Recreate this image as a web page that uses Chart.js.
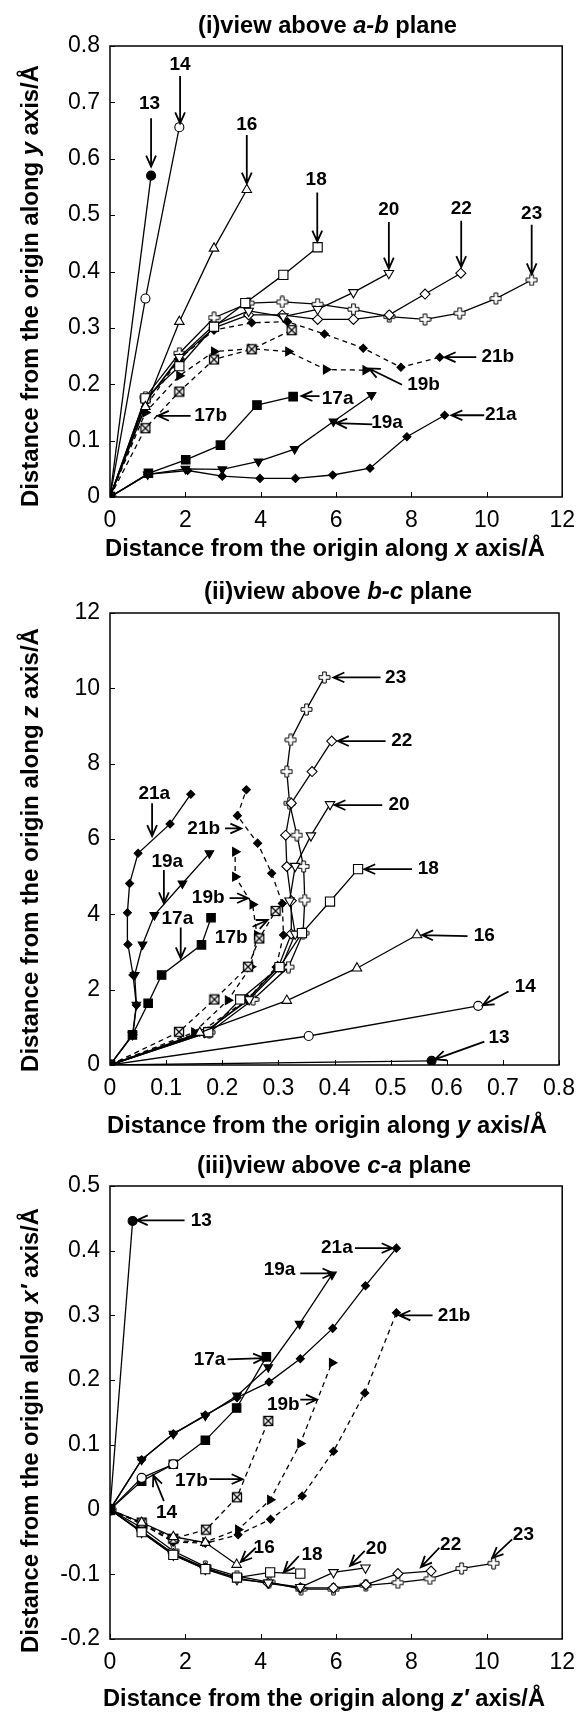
<!DOCTYPE html>
<html>
<head>
<meta charset="utf-8">
<script src="https://cdn.jsdelivr.net/npm/chart.js@4.4.0/dist/chart.umd.min.js"></script>
<style>
  body { margin: 0; background: #fff; }
  canvas { display: block; }
</style>
</head>
<body>
<canvas id="ab" width="585" height="565"></canvas>
<canvas id="bc" width="585" height="575"></canvas>
<canvas id="ca" width="585" height="573"></canvas>
<script>
// ---- (i) view above a-b plane : [x, y] ----
const ab13 = [[0,0],[1.09,0.57]];
const ab14 = [[0,0],[0.94,0.352],[1.84,0.656]];
const ab16 = [[0,0],[0.94,0.16],[1.84,0.311],[2.76,0.441],[3.63,0.545]];
const ab17a = [[0,0],[1.02,0.042],[2.01,0.066],[2.93,0.092],[3.9,0.163],[4.86,0.178]];
const ab17b = [[0,0],[0.94,0.122],[1.84,0.187],[2.76,0.244],[3.76,0.262],[4.82,0.296]];
const ab18 = [[0,0],[0.94,0.175],[1.84,0.232],[2.76,0.302],[3.59,0.344],[4.6,0.394],[5.51,0.443]];
const ab19a = [[0,0],[1.0,0.04],[2.0,0.05],[2.98,0.049],[3.94,0.063],[4.9,0.085],[5.93,0.134],[6.94,0.181]];
const ab19b = [[0,0],[0.94,0.15],[1.84,0.215],[2.76,0.258],[3.75,0.263],[4.73,0.258],[5.73,0.226],[6.78,0.225]];
const ab20 = [[0,0],[0.94,0.168],[1.84,0.248],[2.76,0.305],[3.68,0.33],[4.6,0.32],[5.51,0.333],[6.46,0.363],[7.4,0.397]];
const ab21a = [[0,0],[1.0,0.04],[2.06,0.047],[2.98,0.037],[3.98,0.033],[4.92,0.033],[5.91,0.039],[6.9,0.051],[7.88,0.107],[8.88,0.145]];
const ab21b = [[0,0],[0.94,0.16],[1.84,0.245],[2.76,0.296],[3.76,0.309],[4.71,0.311],[5.69,0.289],[6.72,0.264],[7.72,0.23],[8.75,0.248]];
const ab22 = [[0,0],[0.94,0.17],[1.84,0.245],[2.76,0.3],[3.68,0.323],[4.57,0.323],[5.51,0.315],[6.46,0.315],[7.41,0.323],[8.36,0.36],[9.31,0.397]];
const ab23 = [[0,0],[0.94,0.177],[1.84,0.255],[2.76,0.318],[3.68,0.344],[4.57,0.346],[5.51,0.342],[6.46,0.333],[7.41,0.32],[8.36,0.315],[9.28,0.326],[10.24,0.352],[11.19,0.385]];

// ---- (ii) view above b-c plane : [y, z] ----
const bc13 = [[0,0],[0.573,0.11]];
const bc14 = [[0,0],[0.354,0.77],[0.656,1.57]];
const bc16 = [[0,0],[0.16,0.86],[0.315,1.71],[0.44,2.57],[0.547,3.45]];
const bc17a = [[0,0],[0.04,0.8],[0.068,1.64],[0.092,2.39],[0.163,3.19],[0.18,3.91]];
const bc17b = [[0,0],[0.123,0.88],[0.186,1.74],[0.246,2.61],[0.266,3.36],[0.295,4.09]];
const bc18 = [[0,0],[0.175,0.87],[0.232,1.74],[0.302,2.6],[0.342,3.5],[0.392,4.34],[0.442,5.2]];
const bc19a = [[0,0],[0.04,0.8],[0.047,1.6],[0.044,2.39],[0.058,3.2],[0.079,3.98],[0.129,4.82],[0.177,5.62]];
const bc19b = [[0,0],[0.15,0.87],[0.21,1.72],[0.251,2.61],[0.262,3.45],[0.254,4.26],[0.223,5.0],[0.223,5.66]];
const bc20 = [[0,0],[0.168,0.87],[0.248,1.74],[0.305,2.6],[0.33,3.48],[0.32,4.36],[0.33,5.28],[0.358,6.09],[0.392,6.92]];
const bc21a = [[0,0],[0.041,0.8],[0.047,1.59],[0.041,2.39],[0.032,3.2],[0.031,4.04],[0.035,4.82],[0.05,5.62],[0.107,6.4],[0.144,7.19]];
const bc21b = [[0,0],[0.16,0.87],[0.245,1.74],[0.296,2.6],[0.309,3.45],[0.307,4.29],[0.288,5.09],[0.263,5.89],[0.227,6.62],[0.243,7.31]];
const bc22 = [[0,0],[0.17,0.87],[0.245,1.74],[0.3,2.6],[0.323,3.48],[0.323,4.36],[0.315,5.27],[0.313,6.1],[0.323,6.95],[0.36,7.79],[0.395,8.6]];
const bc23 = [[0,0],[0.177,0.87],[0.255,1.74],[0.318,2.6],[0.344,3.5],[0.347,4.38],[0.345,5.27],[0.333,6.1],[0.32,6.95],[0.315,7.79],[0.322,8.63],[0.35,9.44],[0.382,10.29]];

// ---- (iii) view above c-a plane : [z', x'] ----
const ca13 = [[0,0],[0.6,0.446]];
const ca14 = [[0,0],[0.84,0.049],[1.68,0.07]];
const ca16 = [[0,0],[0.84,-0.02],[1.68,-0.042],[2.53,-0.051],[3.36,-0.085]];
const ca17a = [[0,0],[0.84,0.044],[1.68,0.07],[2.53,0.107],[3.36,0.157],[4.15,0.236]];
const ca17b = [[0,0],[0.84,-0.02],[1.68,-0.045],[2.55,-0.031],[3.37,0.019],[4.2,0.137]];
const ca18 = [[0,0],[0.84,-0.035],[1.68,-0.07],[2.53,-0.092],[3.37,-0.105],[4.25,-0.097],[5.05,-0.099]];
const ca19a = [[0,0],[0.84,0.077],[1.68,0.117],[2.53,0.145],[3.37,0.176],[4.2,0.22],[5.03,0.287],[5.89,0.363]];
const ca19b = [[0,0],[0.84,-0.022],[1.68,-0.048],[2.53,-0.05],[3.4,-0.031],[4.25,0.015],[5.05,0.102],[5.89,0.227]];
const ca20 = [[0,0],[0.84,-0.035],[1.68,-0.07],[2.53,-0.092],[3.37,-0.108],[4.2,-0.113],[5.05,-0.12],[5.93,-0.097],[6.78,-0.09]];
const ca21a = [[0,0],[0.84,0.077],[1.68,0.117],[2.53,0.146],[3.37,0.173],[4.22,0.197],[5.05,0.233],[5.91,0.28],[6.78,0.346],[7.6,0.404]];
const ca21b = [[0,0],[0.84,-0.022],[1.68,-0.05],[2.53,-0.052],[3.4,-0.039],[4.26,-0.015],[5.1,0.021],[5.93,0.09],[6.76,0.18],[7.6,0.304]];
const ca22 = [[0,0],[0.84,-0.033],[1.68,-0.068],[2.53,-0.09],[3.37,-0.106],[4.2,-0.114],[5.05,-0.121],[5.93,-0.121],[6.79,-0.116],[7.64,-0.099],[8.52,-0.095]];
const ca23 = [[0,0],[0.84,-0.028],[1.68,-0.064],[2.53,-0.088],[3.37,-0.103],[4.22,-0.112],[5.07,-0.123],[5.93,-0.123],[6.79,-0.117],[7.64,-0.113],[8.49,-0.107],[9.33,-0.091],[10.18,-0.083]];

// tick values
const abXTicks = [0, 2, 4, 6, 8, 10, 12];
const abYTicks = [0, 0.1, 0.2, 0.3, 0.4, 0.5, 0.6, 0.7, 0.8];
const bcXTicks = [0, 0.1, 0.2, 0.3, 0.4, 0.5, 0.6, 0.7, 0.8];
const bcYTicks = [0, 2, 4, 6, 8, 10, 12];
const caXTicks = [0, 2, 4, 6, 8, 10, 12];
const caYTicks = [-0.2, -0.1, 0, 0.1, 0.2, 0.3, 0.4, 0.5];

// labels with arrows: [text, labelX, labelY, fromX, fromY, tipX, tipY] in data units
const abNotes = [
  ['13', 1.05, 0.697, 1.09, 0.672, 1.09, 0.586],
  ['14', 1.86, 0.766, 1.86, 0.747, 1.86, 0.663],
  ['16', 3.63, 0.66, 3.63, 0.642, 3.63, 0.556],
  ['18', 5.47, 0.562, 5.5, 0.54, 5.5, 0.453],
  ['20', 7.4, 0.509, 7.4, 0.488, 7.4, 0.405],
  ['22', 9.32, 0.512, 9.32, 0.49, 9.32, 0.408],
  ['23', 11.19, 0.503, 11.19, 0.483, 11.19, 0.395],
  ['21b', 10.29, 0.249, 9.72, 0.248, 8.88, 0.248],
  ['19b', 8.32, 0.199, 7.75, 0.199, 6.87, 0.228],
  ['17a', 6.04, 0.175, 5.56, 0.179, 5.08, 0.179],
  ['19a', 7.35, 0.131, 6.96, 0.129, 6.0, 0.131],
  ['21a', 10.37, 0.145, 9.93, 0.145, 9.06, 0.145],
  ['17b', 2.67, 0.144, 2.14, 0.144, 1.27, 0.144]
];
const bcNotes = [
  ['21a', 0.079, 7.21, 0.075, 6.95, 0.075, 6.08],
  ['21b', 0.167, 6.28, 0.205, 6.28, 0.234, 6.28],
  ['19a', 0.102, 5.4, 0.096, 5.18, 0.096, 4.29],
  ['19b', 0.175, 4.43, 0.213, 4.43, 0.246, 4.43],
  ['17a', 0.12, 3.89, 0.126, 3.65, 0.126, 2.83],
  ['17b', 0.216, 3.39, 0.254, 3.67, 0.281, 3.85],
  ['23', 0.509, 10.29, 0.482, 10.29, 0.398, 10.29],
  ['22', 0.52, 8.6, 0.491, 8.6, 0.406, 8.6],
  ['20', 0.515, 6.9, 0.485, 6.9, 0.4, 6.9],
  ['18', 0.567, 5.2, 0.538, 5.2, 0.453, 5.2],
  ['16', 0.667, 3.42, 0.637, 3.42, 0.556, 3.45],
  ['14', 0.74, 2.08, 0.71, 1.95, 0.664, 1.59],
  ['13', 0.693, 0.73, 0.667, 0.62, 0.579, 0.15]
];
const caNotes = [
  ['13', 2.42, 0.446, 1.98, 0.447, 0.71, 0.447],
  ['19a', 4.5, 0.37, 5.05, 0.365, 5.93, 0.365],
  ['21a', 6.02, 0.404, 6.5, 0.404, 7.5, 0.404],
  ['21b', 9.13, 0.3, 8.56, 0.3, 7.68, 0.3],
  ['17a', 2.64, 0.232, 3.12, 0.232, 4.09, 0.234],
  ['19b', 4.6, 0.162, 5.05, 0.17, 5.49, 0.17],
  ['17b', 2.16, 0.044, 2.64, 0.047, 3.52, 0.047],
  ['14', 1.5, -0.005, 1.43, 0.013, 1.15, 0.053],
  ['16', 4.09, -0.059, 3.87, -0.059, 3.47, -0.081],
  ['18', 5.36, -0.07, 5.01, -0.072, 4.61, -0.097],
  ['20', 7.07, -0.061, 6.76, -0.064, 6.37, -0.087],
  ['22', 9.04, -0.054, 8.74, -0.059, 8.25, -0.089],
  ['23', 10.97, -0.039, 10.67, -0.046, 10.14, -0.075]
];

const FONT = '"Liberation Sans", Arial, sans-serif';

// marker pictures that Chart.js has no built-in style for
function plusMark() {
  const c = document.createElement('canvas');
  c.width = c.height = 13;
  const g = c.getContext('2d');
  const m = 6.5, a = 1.8, b = 5.5;
  g.beginPath();
  g.moveTo(m - a, m - b); g.lineTo(m + a, m - b); g.lineTo(m + a, m - a);
  g.lineTo(m + b, m - a); g.lineTo(m + b, m + a); g.lineTo(m + a, m + a);
  g.lineTo(m + a, m + b); g.lineTo(m - a, m + b); g.lineTo(m - a, m + a);
  g.lineTo(m - b, m + a); g.lineTo(m - b, m - a); g.lineTo(m - a, m - a);
  g.closePath();
  g.fillStyle = '#fff'; g.fill();
  g.strokeStyle = '#000'; g.lineWidth = 1; g.stroke();
  return c;
}
function crossedSquare() {
  const c = document.createElement('canvas');
  c.width = c.height = 12;
  const g = c.getContext('2d');
  g.fillStyle = '#fff'; g.fillRect(1, 1, 10, 10);
  g.strokeStyle = '#000'; g.lineWidth = 1.3;
  g.strokeRect(1.5, 1.5, 9, 9);
  g.beginPath();
  g.moveTo(1.5, 1.5); g.lineTo(10.5, 10.5);
  g.moveTo(10.5, 1.5); g.lineTo(1.5, 10.5);
  g.stroke();
  return c;
}

const looks = {
  '13': { style: 'circle', fill: '#000', r: 4.5 },
  '14': { style: 'circle', fill: '#fff', r: 4.5 },
  '16': { style: 'triangle', fill: '#fff', r: 5.5 },
  '17a': { style: 'rect', fill: '#000', r: 6 },
  '17b': { style: crossedSquare(), dash: true },
  '18': { style: 'rect', fill: '#fff', r: 6.5 },
  '19a': { style: 'triangle', rot: 180, fill: '#000', r: 5 },
  '19b': { style: 'triangle', rot: 90, fill: '#000', r: 5, dash: true },
  '20': { style: 'triangle', rot: 180, fill: '#fff', r: 5.5 },
  '21a': { style: 'rectRot', fill: '#000', r: 4 },
  '21b': { style: 'rectRot', fill: '#000', r: 4, dash: true },
  '22': { style: 'rectRot', fill: '#fff', r: 5 },
  '23': { style: plusMark() }
};

function makeSet(name, pts) {
  const k = looks[name];
  return {
    label: name,
    data: pts.map(([x, y]) => ({ x, y })),
    showLine: true,
    borderColor: '#000',
    borderWidth: 1.3,
    borderDash: k.dash ? [5, 4] : [],
    pointStyle: k.style,
    pointRadius: k.r || 5,
    pointRotation: k.rot || 0,
    pointBackgroundColor: k.fill || '#fff',
    pointBorderColor: '#000',
    pointBorderWidth: 1.1
  };
}

// writes a line made of plain and italic parts, stretched to a given length
function writeParts(ctx, parts, size, x, y, len, turn) {
  const fontOf = it => (it ? 'italic ' : '') + 'bold ' + size + 'px ' + FONT;
  let full = 0;
  for (const [p, it] of parts) { ctx.font = fontOf(it); full += ctx.measureText(p).width; }
  ctx.save();
  ctx.translate(x, y);
  if (turn) ctx.rotate(-Math.PI / 2);
  ctx.scale(len / full, 1);
  ctx.textAlign = 'left';
  ctx.textBaseline = 'middle';
  let pos = 0;
  for (const [p, it] of parts) {
    ctx.font = fontOf(it);
    ctx.fillText(p, pos, 0);
    pos += ctx.measureText(p).width;
  }
  ctx.restore();
}

const notePlugin = {
  id: 'notes',
  beforeDatasetsDraw(chart) {
    const { ctx, chartArea: a, scales: { x, y } } = chart;
    ctx.save();
    ctx.strokeStyle = '#000';
    ctx.lineWidth = 1.5;
    ctx.strokeRect(a.left, a.top, a.right - a.left, a.bottom - a.top);
    // short tick marks pointing into the plot
    ctx.lineWidth = 1;
    ctx.beginPath();
    for (const t of x.ticks) {
      const px = Math.round(x.getPixelForValue(t.value)) + 0.5;
      ctx.moveTo(px, a.bottom); ctx.lineTo(px, a.bottom - 5);
    }
    for (const t of y.ticks) {
      const py = Math.round(y.getPixelForValue(t.value)) + 0.5;
      ctx.moveTo(a.left, py); ctx.lineTo(a.left + 5, py);
    }
    ctx.stroke();
    ctx.restore();
  },
  afterDatasetsDraw(chart, args, opts) {
    const { ctx, scales: { x, y } } = chart;
    ctx.save();
    ctx.strokeStyle = '#000';
    ctx.fillStyle = '#000';
    ctx.lineWidth = 1.8;
    ctx.font = 'bold 19px ' + FONT;
    ctx.textAlign = 'center';
    ctx.textBaseline = 'middle';
    for (const [txt, lx, ly, fx, fy, tx, ty] of opts.items) {
      const x0 = x.getPixelForValue(fx), y0 = y.getPixelForValue(fy);
      const x1 = x.getPixelForValue(tx), y1 = y.getPixelForValue(ty);
      const ang = Math.atan2(y1 - y0, x1 - x0), h = 12, w = 0.42;
      ctx.beginPath();
      ctx.moveTo(x0, y0);
      ctx.lineTo(x1, y1);
      ctx.moveTo(x1 - h * Math.cos(ang - w), y1 - h * Math.sin(ang - w));
      ctx.lineTo(x1, y1);
      ctx.lineTo(x1 - h * Math.cos(ang + w), y1 - h * Math.sin(ang + w));
      ctx.stroke();
      ctx.fillText(txt, x.getPixelForValue(lx), y.getPixelForValue(ly));
    }
    // heading and axis names, with the variable letters in italics
    const L = opts.lay;
    writeParts(ctx, opts.head, 23.5, L.headX, L.headY, L.headLen, false);
    writeParts(ctx, opts.xName, 23.5, L.xNameX, L.xNameY, L.xNameLen, false);
    writeParts(ctx, opts.yName, 23.5, 32, L.yNameY, L.yNameLen, true);
    ctx.restore();
  }
};

function axis(ticks, fit) {
  return {
    type: 'linear',
    min: ticks[0],
    max: ticks[ticks.length - 1],
    ticks: {
      stepSize: ticks[1] - ticks[0], color: '#000', padding: 10,
      font: { family: FONT, size: 23 },
      callback: v => String(Math.round(v * 100) / 100)
    },
    grid: { display: false, drawTicks: false },
    border: { display: false },
    afterFit: fit
  };
}

function build(id, c) {
  return new Chart(document.getElementById(id), {
    type: 'scatter',
    data: { datasets: c.series.map(([n, p]) => makeSet(n, p)) },
    options: {
      responsive: false,
      animation: false,
      events: [],
      layout: { padding: { left: 0, top: c.top, bottom: 0, right: 585 - c.right } },
      plugins: {
        legend: { display: false },
        tooltip: { enabled: false },
        notes: { items: c.notes, head: c.head, xName: c.xName, yName: c.yName, lay: c.lay }
      },
      scales: {
        x: axis(c.xTicks, s => { s.height = c.h - c.bottom; }),
        y: axis(c.yTicks, s => { s.width = 110; })
      }
    },
    plugins: [notePlugin]
  });
}

build('ab', {
  h: 565, top: 46, bottom: 497, right: 567,
  lay: { headX: 198, headY: 27, headLen: 259, xNameX: 105, xNameY: 550, xNameLen: 440, yNameY: 507, yNameLen: 442 },
  head: [['(i)view above ', false], ['a-b', true], [' plane', false]],
  xName: [['Distance from the origin along ', false], ['x', true], [' axis/Å', false]],
  yName: [['Distance from the origin along ', false], ['y', true], [' axis/Å', false]],
  xTicks: abXTicks, yTicks: abYTicks, notes: abNotes,
  series: [['13', ab13], ['14', ab14], ['16', ab16], ['17a', ab17a], ['17b', ab17b], ['18', ab18],
    ['19a', ab19a], ['19b', ab19b], ['20', ab20], ['21a', ab21a], ['21b', ab21b], ['22', ab22], ['23', ab23]]
});

build('bc', {
  h: 575, top: 48, bottom: 500, right: 566,
  lay: { headX: 204, headY: 28, headLen: 268, xNameX: 107, xNameY: 562, xNameLen: 440, yNameY: 507, yNameLen: 444 },
  head: [['(ii)view above ', false], ['b-c', true], [' plane', false]],
  xName: [['Distance from the origin along ', false], ['y', true], [' axis/Å', false]],
  yName: [['Distance from the origin along ', false], ['z', true], [' axis/Å', false]],
  xTicks: bcXTicks, yTicks: bcYTicks, notes: bcNotes,
  series: [['13', bc13], ['14', bc14], ['16', bc16], ['17a', bc17a], ['17b', bc17b], ['18', bc18],
    ['19a', bc19a], ['19b', bc19b], ['20', bc20], ['21a', bc21a], ['21b', bc21b], ['22', bc22], ['23', bc23]]
});

build('ca', {
  h: 573, top: 46, bottom: 499, right: 564,
  lay: { headX: 197, headY: 27, headLen: 274, xNameX: 103, xNameY: 560, xNameLen: 442, yNameY: 513, yNameLen: 445 },
  head: [['(iii)view above ', false], ['c-a', true], [' plane', false]],
  xName: [['Distance from the origin along ', false], ['z\u2032', true], [' axis/Å', false]],
  yName: [['Distance from the origin along ', false], ['x\u2032', true], [' axis/Å', false]],
  xTicks: caXTicks, yTicks: caYTicks, notes: caNotes,
  series: [['13', ca13], ['14', ca14], ['16', ca16], ['17a', ca17a], ['17b', ca17b], ['18', ca18],
    ['19a', ca19a], ['19b', ca19b], ['20', ca20], ['21a', ca21a], ['21b', ca21b], ['22', ca22], ['23', ca23]]
});
</script>
</body>
</html>
